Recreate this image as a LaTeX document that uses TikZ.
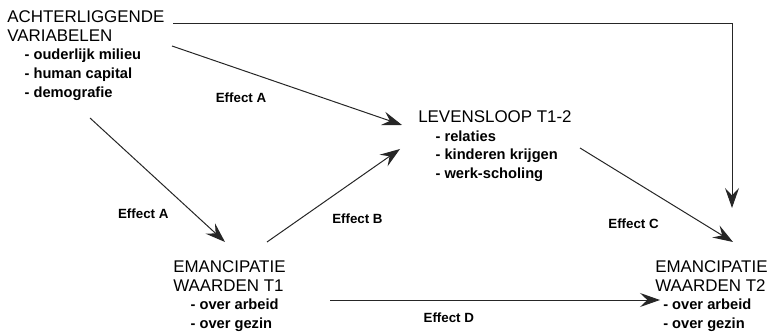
\documentclass[tikz,border=0pt]{standalone}
\usepackage{fontspec}
\setmainfont{Liberation Sans}
\usetikzlibrary{arrows.meta}
\newcommand{\punt}[2][13pt]{\hspace*{#1}{\fontsize{11}{14.2}\selectfont\bfseries - #2}}
\begin{document}
\begin{tikzpicture}[x=0.75pt, y=-0.75pt,
    >={Stealth[length=15pt, width=10.5pt, inset=5.5pt]},
    blok/.style={inner sep=0pt, anchor=north west, align=left,
      font=\fontsize{12.7}{14.2}\selectfont},
    effect/.style={inner sep=0pt, font=\fontsize{10}{12}\selectfont\bfseries},
    pijl/.style={->, line width=0.75pt, draw=black!85}]
      \useasboundingbox (0,0) rectangle (773,334);
      \node[blok] (bg) at (7,10) {ACHTERLIGGENDE\\VARIABELEN\\\punt{ouderlijk milieu}\\\punt{human capital}\\\punt{demografie}};
      \node[blok] (ls) at (418,110) {LEVENSLOOP T1-2\\\punt{relaties}\\\punt{kinderen krijgen}\\\punt{werk-scholing}};
      \node[blok] (t1) at (173,260) {EMANCIPATIE\\WAARDEN T1\\\punt{over arbeid}\\\punt{over gezin}};
      \node[blok] (t2) at (655,260) {EMANCIPATIE\\WAARDEN T2\\\punt[6pt]{over arbeid}\\\punt[6pt]{over gezin}};
      \draw[pijl] ([shift={(166,14)}]bg.north west) -| ([shift={(77,-52)}]t2.north west);
      \draw[pijl] ([shift={(165,36)}]bg.north west) to node[effect, pos=.30, yshift=-21pt] {Effect A} ([shift={(-16,15)}]ls.north west);
      \draw[pijl] ([shift={(83,108)}]bg.north west) to node[effect, pos=.77, xshift=-38pt] {Effect A} ([shift={(52,-18)}]t1.north west);
      \draw[pijl] ([shift={(94,-18)}]t1.north west) to node[effect, pos=.68, yshift=-30pt] {Effect B} ([shift={(-18,39)}]ls.north west);
      \draw[pijl] ([shift={(162,38)}]ls.north west) to node[effect, pos=.35, yshift=-32pt] {Effect C} ([shift={(78,-18)}]t2.north west);
      \draw[pijl] ([shift={(157,40)}]t1.north west) to node[effect, pos=.36, yshift=-13.5pt] {Effect D} ([shift={(5,40)}]t2.north west);
    \end{tikzpicture}
\end{document}
